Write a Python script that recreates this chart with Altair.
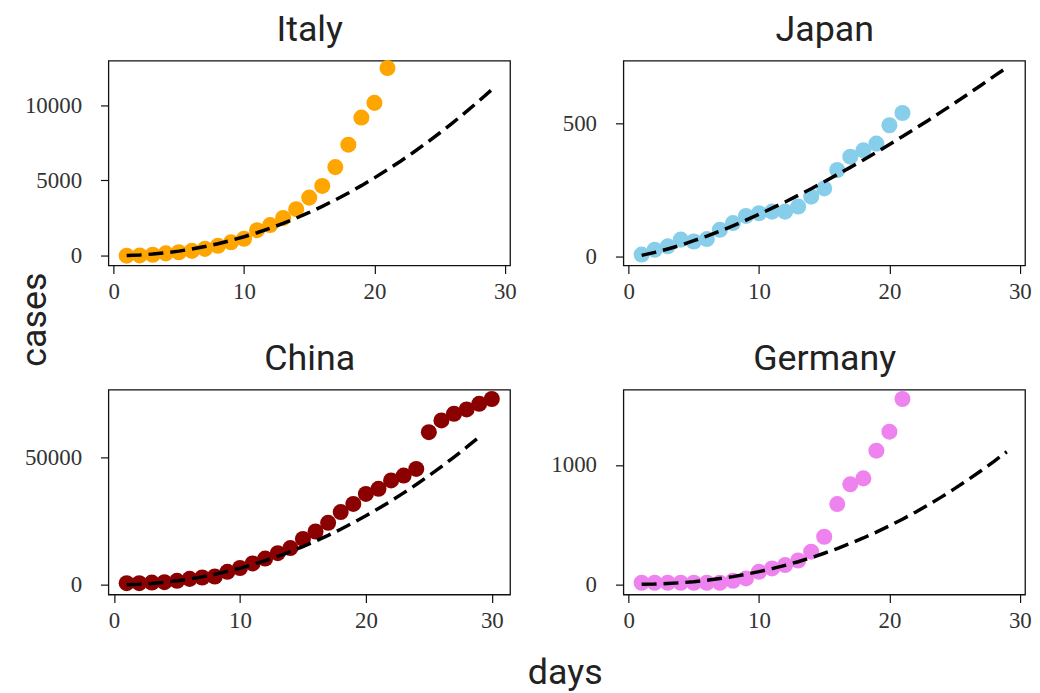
import altair as alt
import pandas as pd

# ---- data ----
days_short = list(range(1, 22))
days_china = list(range(1, 31))
fit_days = list(range(1, 30))

italy_cases = [3, 20, 62, 155, 229, 322, 453, 655, 888, 1128, 1694, 2036, 2502,
               3089, 3858, 4636, 5883, 7375, 9172, 10149, 12462]
japan_cases = [9, 27, 40, 65, 58, 67, 102, 127, 154, 164, 170, 170, 189, 226,
               257, 326, 376, 400, 425, 494, 540]
china_cases = [650, 650, 900, 1050, 1570, 2350, 2870, 3260, 5100, 6600, 8400,
               10300, 12400, 14400, 18000, 20900, 24300, 28500, 31700, 35600,
               37600, 40900, 42800, 45400, 59800, 64400, 67000, 68700, 70900, 72800]
germany_cases = [14, 14, 14, 14, 14, 14, 14, 30, 50, 106, 134, 162, 200, 274,
                 399, 673, 838, 888, 1120, 1279, 1553]

italy_fit = [11, 47, 108, 194, 306, 443, 607, 797, 1014, 1257, 1526, 1823, 2146,
             2496, 2873, 3278, 3709, 4168, 4654, 5168, 5709, 6277, 6873, 7497,
             8148, 8826, 9534, 10267, 11029]
japan_fit = [6, 17, 30, 44, 61, 78, 97, 117, 138, 160, 183, 206, 231, 256, 282,
             309, 336, 364, 392, 422, 452, 482, 513, 545, 577, 610, 643, 677, 710]
china_fit = [58, 241, 553, 998, 1577, 2293, 3143, 4132, 5261, 6530, 7938, 9492,
             11180, 13014, 14992, 17117, 19381, 21790, 24345, 27040, 29886, 32877,
             36014, 39291, 42725, 46304, 50029, 53899, 57921]
germany_fit = [1, 3, 8, 14, 23, 35, 49, 65, 85, 107, 132, 160, 190, 224, 261, 300,
               343, 389, 438, 491, 546, 605, 668, 733, 802, 874, 950, 1029, 1111]

countries = ["Italy", "Japan", "China", "Germany"]
colors = ["#FFA500", "#87CEEB", "#8B0000", "#EE82EE"]
x_ticks = [0, 10, 20, 30]

W, H = 404, 206
TITLE_FONT = "Roboto"
LABEL_FONT = "Liberation Serif"
BIG = dict(titleFont=TITLE_FONT, titleFontSize=36, titleFontWeight="normal",
           titleColor="#222", titleAlign="center", titleBaseline="alphabetic")


def panel(name, days, cases, fit, color, xdom, ydom, yticks, side_title=None, bottom_title=None):
    pts = pd.DataFrame({"day": days, "cases": cases})
    ln = pd.DataFrame({"day": fit_days, "cases": fit})

    # panel name placed above the plot area (as the y axis title)
    yaxis = alt.Axis(values=yticks, format="d", labelPadding=19, title=name,
                     titleX=W / 2, titleY=-20, titleAngle=0, **BIG)
    if side_title:
        xaxis = alt.Axis(values=x_ticks, format="d", labelPadding=7,
                         title=side_title, titleX=-63, titleY=54, titleAngle=270, **BIG)
    elif bottom_title:
        xaxis = alt.Axis(values=x_ticks, format="d", labelPadding=7,
                         title=bottom_title, titleX=459, titleY=89, titleAngle=0, **BIG)
    else:
        xaxis = alt.Axis(values=x_ticks, format="d", labelPadding=7, title=None)

    x = alt.X("day:Q", scale=alt.Scale(domain=xdom, nice=False, zero=False), axis=xaxis)
    y = alt.Y("cases:Q", scale=alt.Scale(domain=ydom, nice=False, zero=False), axis=yaxis)

    points = alt.Chart(pts).mark_circle(size=260, opacity=1, color=color).encode(x=x, y=y)
    line = alt.Chart(ln).mark_line(color="black", strokeWidth=3.5,
                                   strokeDash=[15, 7]).encode(x=x, y=y)
    return alt.layer(points, line).properties(width=W, height=H)


it = panel("Italy", days_short, italy_cases, italy_fit, colors[0],
           [-0.4, 30.4], [-650, 12950], [0, 5000, 10000], side_title="cases")
jp = panel("Japan", days_short, japan_cases, japan_fit, colors[1],
           [-0.4, 30.4], [-32, 736], [0, 500])
cn = panel("China", days_china, china_cases, china_fit, colors[2],
           [-0.45, 31.45], [-3800, 76400], [0, 50000], bottom_title="days")
de = panel("Germany", days_short, germany_cases, germany_fit, colors[3],
           [-0.4, 30.4], [-85, 1630], [0, 1000])

chart = alt.concat(it, jp, cn, de, columns=2,
                   spacing=alt.RowColnumber(row=125, column=114),
                   bounds="flush").properties(
    padding={"left": 8, "top": 1, "right": 0, "bottom": 0}
).configure_view(
    stroke="#111", strokeWidth=1.3
).configure_axis(
    domain=False, grid=False, ticks=True, tickColor="#111", tickSize=8,
    tickWidth=1.2, labelFont=LABEL_FONT, labelFontSize=23, labelColor="#333"
)

chart.save("out.html", embed_options={"renderer": "svg", "actions": False})
